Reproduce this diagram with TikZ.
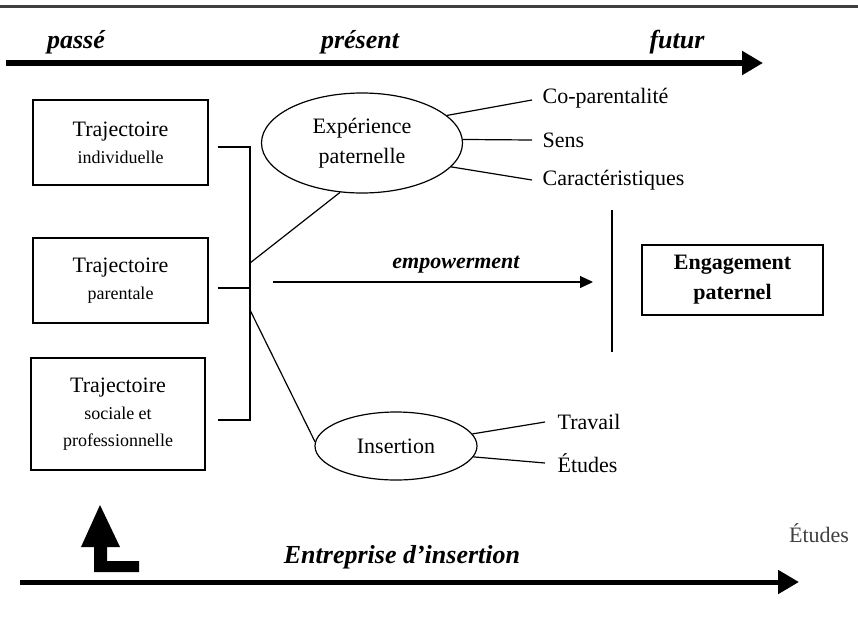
\documentclass[tikz,border=0pt]{standalone}
\usepackage{fontspec}
\setmainfont{Liberation Serif}
\usetikzlibrary{shapes.geometric,arrows.meta}
\newcommand\txt{\fontsize{22}{27}\selectfont}
\newcommand\sml{\fontsize{18}{27}\selectfont}
\begin{document}
\begin{tikzpicture}[x=1pt,y=-1pt,every node/.style={font=\txt,inner sep=0pt},line width=1.2pt,
  box/.style={draw,rectangle,align=center},
  oval/.style={draw,ellipse,align=center},
  lbl/.style={font=\fontsize{26}{30}\selectfont\bfseries\itshape},
  axis/.style={line width=6pt,-{Triangle[length=21pt,width=23pt]}}]
\useasboundingbox (0,0) rectangle (858,624);
\draw[line width=3pt,black!75] (0,6) -- (858,6);
\node[lbl] (pa) at (76,42) {passé};
\node[lbl] (pr) at (360,42) {présent};
\node[lbl] (fu) at (677,42) {futur};
\coordinate (t0) at (6,63);
\coordinate (t1) at (763,63);
\draw[axis] (t0) -- (t1);
\node[box,minimum width=175pt,minimum height=85pt] (b1) at (120.5,142.5) {Trajectoire\\\sml individuelle};
\node[box,minimum width=175pt,minimum height=85pt] (b2) at (120.5,280.5) {Trajectoire\\\sml parentale};
\node[box,minimum width=174pt,minimum height=112pt] (b3) at (118,414) {Trajectoire\\\sml sociale et\\\sml professionnelle};
\coordinate (j1) at (250,263);
\coordinate (j2) at (250,310);
\draw ([xshift=9pt,yshift=-4.5pt]b1.east) -| (j1) |- ([xshift=12pt,yshift=-6pt]b3.east);
\draw ([xshift=9pt,yshift=-7.5pt]b2.east) -- ++(33,0);
\node[oval,minimum width=201pt,minimum height=100pt] (exp) at (362,143) {Expérience\\[3pt]paternelle};
\node[anchor=west] (cop) at (542,98) {Co-parentalité};
\node[anchor=west] (sen) at (542,140) {Sens};
\node[anchor=west] (car) at (542,180) {Caractéristiques};
\draw (j1) -- (exp.-114);
\draw (exp.18) -- ([xshift=-10pt,yshift=-2pt]cop.west);
\draw (exp.2) -- ([xshift=-10pt]sen.west);
\draw (exp.-15) -- ([xshift=-10pt]car.west);
\node[box,minimum width=181pt,minimum height=70pt,font=\txt\bfseries] (eng) at (732.5,280) {Engagement\\[3pt]paternel};
\coordinate (v0) at (612,210);
\coordinate (v1) at (612,352);
\draw (v0) -- (v1);
\coordinate (e0) at (273,282);
\coordinate (e1) at (593,282);
\draw[-{Triangle[length=13pt,width=12pt]}] (e0) -- (e1);
\node[font=\txt\bfseries\itshape] (emp) at (456,265) {empowerment};
\node[oval,minimum width=162pt,minimum height=68pt] (ins) at (396,446) {Insertion};
\node[anchor=west] (tra) at (557,422) {Travail};
\node[anchor=west] (etu) at (557,463) {Études};
\draw (j2) -- (ins.177);
\draw (ins.9) -- ([xshift=-12pt]tra.west);
\draw (ins.-8) -- ([xshift=-12pt]etu.west);
\node[text=black!75] (etu2) at (819,533) {Études};
\fill (100,505) -- (120,547) -- (107,547) -- (107,561) -- (139,561) -- (139,572)
  -- (94,572) -- (94,547) -- (81,547) -- cycle;
\node[lbl] (ent) at (402,557) {Entreprise d’insertion};
\coordinate (s0) at (20,582);
\coordinate (s1) at (799,582);
\draw[axis,line width=5pt] (s0) -- (s1);
\end{tikzpicture}
\end{document}
